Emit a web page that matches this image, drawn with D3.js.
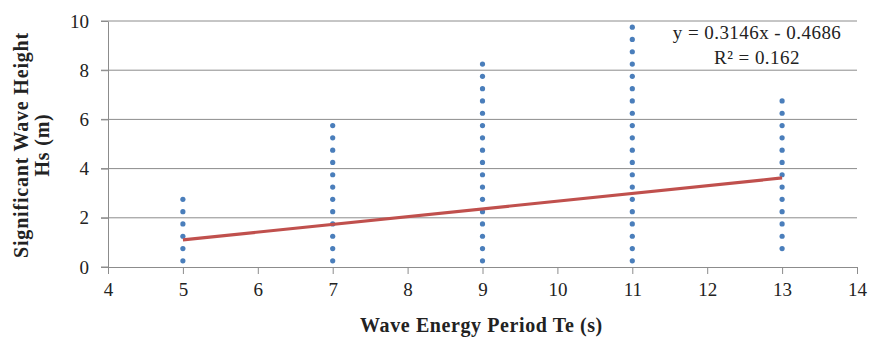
<!DOCTYPE html>
<html lang="en">
<head>
<meta charset="UTF-8">
<title>Hs vs Te</title>
<script src="https://cdn.jsdelivr.net/npm/d3@7"></script>
<style>
  body { margin: 0; background: #fff; }
  svg text { font-family: "Liberation Serif", "Times New Roman", serif; fill: #222; }
  .grid line { stroke: #8c8c8c; stroke-width: 1; }
  .axis path, .axis line { stroke: #8c8c8c; }
  .dot { fill: #4a7ebb; }
</style>
</head>
<body>
<svg id="chart" width="873" height="342"></svg>
<script>
// --- data (Te in s, Hs in m) ---
const periods = [5, 7, 9, 11, 13];
const hs5  = [0.25, 0.75, 1.25, 1.75, 2.25, 2.75];
const hs7  = [0.25, 0.75, 1.25, 1.75, 2.25, 2.75, 3.25, 3.75, 4.25, 4.75, 5.25, 5.75];
const hs9  = [0.25, 0.75, 1.25, 1.75, 2.25, 2.75, 3.25, 3.75, 4.25, 4.75, 5.25, 5.75, 6.25, 6.75, 7.25, 7.75, 8.25];
const hs11 = [0.25, 0.75, 1.25, 1.75, 2.25, 2.75, 3.25, 3.75, 4.25, 4.75, 5.25, 5.75, 6.25, 6.75, 7.25, 7.75, 8.25, 8.75, 9.25, 9.75];
const hs13 = [0.75, 1.25, 1.75, 2.25, 2.75, 3.25, 3.75, 4.25, 4.75, 5.25, 5.75, 6.25, 6.75];
const xTicks = [4, 5, 6, 7, 8, 9, 10, 11, 12, 13, 14];
const yTicks = [0, 2, 4, 6, 8, 10];
const slope = 0.3146, intercept = -0.4686, r2 = 0.162;

const points = [];
[hs5, hs7, hs9, hs11, hs13].forEach((col, i) => {
  col.forEach(v => points.push({ te: periods[i], hs: v }));
});

const svg = d3.select("#chart");
const margin = { left: 108, right: 16, top: 21, bottom: 75 };
const W = 873, H = 342;
const serif = '"Liberation Serif", "Times New Roman", serif';

const x = d3.scaleLinear().domain([4, 14]).range([margin.left, W - margin.right]);
const y = d3.scaleLinear().domain([0, 10]).range([H - margin.bottom, margin.top]);

// horizontal gridlines (with short ticks on the left)
svg.append("g").attr("class", "grid")
  .selectAll("line").data(yTicks.filter(d => d > 0)).join("line")
  .attr("x1", x(4) - 7).attr("x2", x(14))
  .attr("y1", d => y(d)).attr("y2", d => y(d));

// y axis
svg.append("g").attr("class", "axis")
  .attr("transform", `translate(${x(4)},0)`)
  .call(d3.axisLeft(y).tickValues(yTicks).tickSize(7).tickSizeOuter(0).tickPadding(12));

// x axis
svg.append("g").attr("class", "axis")
  .attr("transform", `translate(0,${y(0)})`)
  .call(d3.axisBottom(x).tickValues(xTicks).tickSize(7).tickSizeOuter(0).tickPadding(9));

svg.selectAll(".axis").attr("font-family", serif).attr("font-size", 19);
svg.selectAll(".axis text")
  .style("font-family", serif).style("font-size", "19px").style("fill", "#222");
// extend x axis line left to the tick stub
svg.append("line").attr("x1", x(4) - 7).attr("x2", x(4))
  .attr("y1", y(0)).attr("y2", y(0)).attr("stroke", "#8c8c8c");

// scatter points
svg.append("g").selectAll("circle").data(points).join("circle")
  .attr("class", "dot")
  .attr("cx", d => x(d.te)).attr("cy", d => y(d.hs)).attr("r", 2.6);

// linear trendline over data range
const tMin = d3.min(periods), tMax = d3.max(periods);
svg.append("line")
  .attr("x1", x(tMin)).attr("y1", y(slope * tMin + intercept))
  .attr("x2", x(tMax)).attr("y2", y(slope * tMax + intercept))
  .attr("stroke", "#c0504d").attr("stroke-width", 3.2);

// equation label
const eq = svg.append("g").attr("transform", "translate(757,0)");
eq.append("text").attr("y", 39).attr("text-anchor", "middle")
  .style("font-size", "19px").style("letter-spacing", "0.45px")
  .text(`y = ${slope}x - ${Math.abs(intercept)}`);
eq.append("text").attr("y", 64).attr("text-anchor", "middle")
  .style("font-size", "19px").style("letter-spacing", "0.45px")
  .text(`R² = ${r2}`);

// axis titles
svg.append("text").attr("x", x(9) - 1).attr("y", 332).attr("text-anchor", "middle")
  .style("font-size", "20px").style("font-weight", "bold").style("letter-spacing", "0.6px")
  .text("Wave Energy Period Te (s)");

const yt = svg.append("text").attr("transform", "translate(0,145) rotate(-90)")
  .attr("text-anchor", "middle").style("font-size", "20px").style("font-weight", "bold")
  .style("letter-spacing", "0.8px");
yt.append("tspan").attr("x", 0).attr("y", 28).text("Significant Wave Height");
yt.append("tspan").attr("x", 0).attr("y", 49).text("Hs (m)");
</script>
</body>
</html>
